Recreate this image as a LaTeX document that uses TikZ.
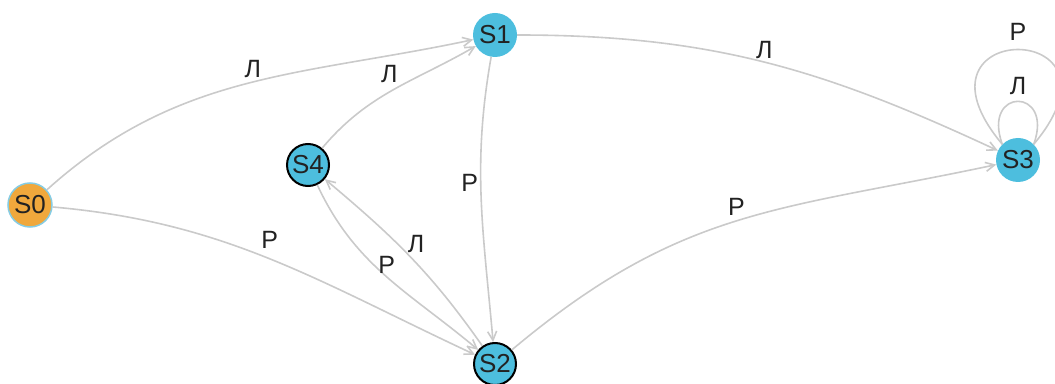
\documentclass[tikz,border=0pt]{standalone}
\usepackage{fontspec}
\setmainfont{Liberation Sans}
\usetikzlibrary{arrows.meta}

\definecolor{stcyan}{HTML}{4DBEDE}
\definecolor{storange}{HTML}{F0A83C}
\definecolor{strim}{HTML}{86CCE3}
\definecolor{edgegray}{HTML}{CACACA}
\definecolor{inkgray}{HTML}{222222}

\tikzset{
  state/.style={circle,fill=stcyan,minimum size=44pt,inner sep=0pt,
    font=\fontsize{26}{30}\selectfont,text=inkgray},
  start/.style={state,fill=storange,draw=strim,line width=1.5pt},
  rim/.style={state,draw=black,line width=2pt,minimum size=42pt},
  edge/.style={draw=edgegray,line width=1.6pt,
    -{Straight Barb[length=9pt,width=9pt,line width=1.6pt]}},
  loopedge/.style={draw=edgegray,line width=1.6pt},
  lbl/.style={font=\fontsize{25}{29}\selectfont,text=inkgray,inner sep=2pt}
}

\begin{document}
\begin{tikzpicture}[x=1pt,y=1pt]
\useasboundingbox (0,0) rectangle (1055,383);

% states
\node[start] (S0) at (30,178) {S0};
\node[state] (S1) at (495,348) {S1};
\node[rim]   (S2) at (495,19)  {S2};
\node[state] (S3) at (1018,223) {S3};
\node[rim]   (S4) at (308,218) {S4};

% transitions
\draw[edge] (S0) to[out=42,in=192]
  node[lbl,pos=0.52,above=2pt] {Л} (S1);
\draw[edge] (S0) to[out=-5,in=155]
  node[lbl,pos=0.5,above=8pt] {Р} (S2);
\draw[edge] (S4) to[out=50,in=210]
  node[lbl,pos=0.55,above left=0pt] {Л} (S1);
\draw[edge] (S1) to[out=-100,in=95]
  node[lbl,pos=0.44,left=0pt] {Р} (S2);
\draw[edge] (S1) to[out=0,in=155]
  node[lbl,pos=0.5,above=1pt] {Л} (S3);
\draw[edge] (S2) to[out=40,in=192,looseness=1.1]
  node[lbl,pos=0.5,above=3pt] {Р} (S3);
\draw[edge] (S4) to[out=-65,in=140]
  node[lbl,pos=0.42,right=2pt] {Р} (S2);
\draw[edge] (S2) to[out=125,in=-40]
  node[lbl,pos=0.52,above right=-2pt] {Л} (S4);

% loops on S3
\draw[loopedge] (S3.135) .. controls +(130:165) and +(50:165) .. (S3.45)
  node[lbl,pos=0.5,above=6pt] {Р};
\draw[loopedge] (S3.135) .. controls +(110:61) and +(70:61) .. (S3.45)
  node[lbl,pos=0.5,above=4pt] {Л};
\end{tikzpicture}
\end{document}
